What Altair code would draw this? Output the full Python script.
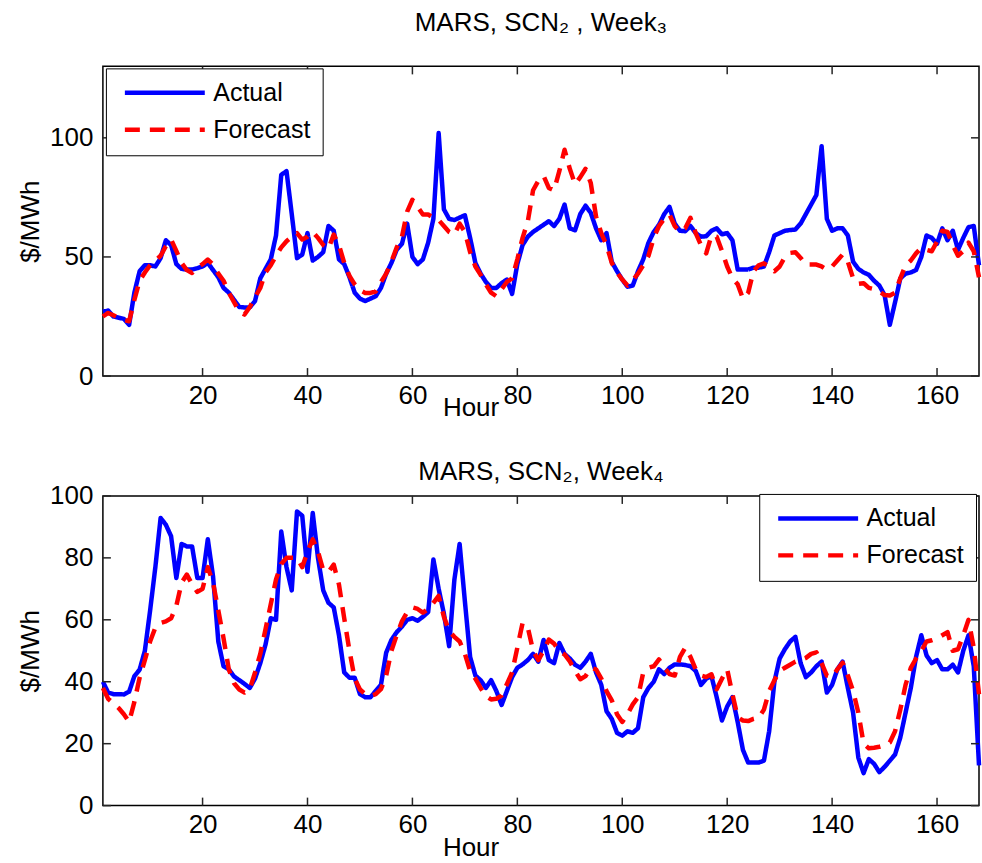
import altair as alt
import pandas as pd

# Hourly prices ($/MWh), hours 1..168
hours = list(range(1, 169))

week3_actual = [
    27, 27.5, 25, 24.5, 24, 21.5, 35, 44, 46.5, 46.5, 46, 49.5,
    57, 55, 47, 45, 44.7, 44.7, 45.3, 46, 47.5, 44.5, 41.5, 37,
    35, 32, 29, 28.8, 28.8, 31.5, 41, 45, 49, 59, 84.5, 86,
    68, 49.5, 51, 60, 48.5, 50, 52, 63, 61, 49, 47, 41.5,
    35, 32.5, 31.5, 32.5, 33.5, 37, 43, 47.5, 53, 55.5, 64, 50,
    47, 49, 56, 66, 102, 70, 66, 65.5, 66.5, 67.5, 58, 47.5,
    43, 39.5, 37, 37, 39, 40.5, 34.5, 47, 55, 58.5, 60.5, 62,
    63.5, 65, 63, 66, 72, 62, 61.2, 68, 71.5, 68.5, 62, 57,
    60, 48, 44, 40.5, 37.5, 38, 44, 49, 56, 60.5, 63.5, 68,
    71, 64, 61, 60.8, 63, 60, 58.5, 58.7, 61, 62, 59.5, 60,
    57, 44.7, 44.7, 44.7, 45.5, 45.5, 46, 52, 59, 60, 61, 61.3,
    61.5, 64, 68, 72, 76, 96.5, 66, 61, 62, 62, 59, 48,
    45, 43.5, 42.5, 40, 38, 34, 21.5, 31, 41, 43, 43.5, 44.5,
    50, 59, 58, 55.5, 62, 57, 61, 53, 58, 62.5, 63, 46.5,
]

week3_forecast = [
    25, 26.5, 25.5, 24.5, 23.5, 23, 32, 40, 43.5, 46.5, 48.5, 50.5,
    54.5, 57.3, 52.5, 47.5, 44.5, 43.3, 45.5, 47, 48.9, 46.8, 43, 40,
    35, 31, 27, 25.8, 29, 33, 37, 43.5, 46.5, 50.5, 54, 56.6,
    58.5, 60, 57.3, 58.5, 60.5, 58, 55, 53.5, 59.4, 55, 47.5, 42,
    38.5, 36, 34.9, 34.9, 35.5, 39.5, 43, 48, 54, 58.5, 69, 74,
    71, 67.8, 67.8, 66.5, 65.5, 63, 60.5, 59.4, 64, 60.5, 52, 46,
    42.5, 38.5, 35, 33.5, 36.5, 39.5, 41, 49, 58, 65, 78, 82,
    84, 79, 78, 86, 95, 87, 80.5, 83.5, 87, 81, 67, 60,
    55, 47.5, 43.5, 40.5, 38, 40.3, 43, 46.5, 50.5, 58, 63, 66,
    67.8, 63, 60.5, 62, 66.4, 60, 55, 51.5, 59, 58.5, 52.5, 46,
    41, 38.5, 32.5, 35, 44, 46.5, 47.3, 46, 44, 46, 50, 51.7,
    52, 49.6, 46.8, 46.8, 46.8, 46, 44.7, 46, 48.5, 51, 48, 41,
    38.7, 39, 37, 36.5, 35.5, 34, 33.8, 35, 41, 46.5, 48.5, 51.5,
    53.8, 53, 52.4, 56.5, 61, 60.5, 55, 50.5, 52.5, 56, 52.4, 41.5,
]

week4_actual = [
    40, 36.5, 36, 36, 35.9, 36.8, 41.8, 43.9, 50, 63, 77, 92.9,
    90.7, 87, 73.5, 84.5, 83.7, 83.7, 73.5, 73.5, 86, 74, 53, 45,
    44, 41.7, 40.5, 39.3, 38, 41, 46, 52, 60.5, 60, 88.5, 77,
    69.5, 95, 93.6, 75.5, 94.5, 80, 69.5, 65.5, 64, 55, 43, 41.3,
    41.3, 36, 35, 35, 37, 39, 49.4, 53.5, 56, 57.8, 60, 60.5,
    59.7, 61, 62.5, 79.5, 70, 62, 51.5, 73, 84.5, 66, 48, 42,
    40.5, 38, 40.5, 37, 32.5, 37, 41.5, 44.5, 45.6, 47, 49, 46.5,
    53.5, 47, 46, 52.5, 49, 47.5, 45.5, 44.5, 46.5, 49, 43, 39,
    30.5, 28, 23.5, 22.6, 24, 23.5, 25, 35, 38, 40, 44, 42.5,
    44.5, 45.6, 45.6, 45.4, 45, 43.5, 39, 41, 41.8, 35, 27.5, 32,
    35, 27, 18, 13.9, 13.9, 13.9, 14.5, 24, 40, 47.5, 50.5, 53,
    54.5, 46, 41.5, 43, 45, 46.5, 36.5, 39, 44, 46.5, 38, 30,
    15.5, 10.5, 15, 13.5, 10.8, 12.5, 14.5, 16.5, 22, 30, 38, 48,
    55, 48.5, 46, 47, 44, 44, 45.5, 43, 50, 55, 45, 13,
]

week4_forecast = [
    38, 34.5, 33, 31.5, 29.5, 27, 33.5, 41.3, 47, 53, 57.5, 59,
    59.5, 60.5, 64.5, 72, 74.6, 71.5, 69, 70, 77, 72, 63, 54,
    44, 39.5, 37.5, 36.5, 37.6, 43, 49, 57, 65, 73, 78, 80,
    80, 80, 77, 82, 86, 82, 76, 75.5, 77.8, 71.4, 60.5, 50,
    41, 37.5, 36, 35.4, 36, 37.6, 42, 50, 55, 59.5, 62.5, 64,
    63.5, 62.3, 63.5, 65.5, 67.7, 61, 56.3, 54.5, 53, 49, 43.5, 41,
    38, 35.4, 34.3, 34.5, 35.5, 39.2, 43, 51, 59, 57.5, 50, 47,
    50, 53.6, 52.3, 50, 48.8, 46.6, 43.5, 40.8, 41.8, 44.5, 44, 41,
    37, 34, 29.5, 27, 29.5, 32.7, 35, 43, 44.5, 45, 47.2, 44.5,
    42.5, 42, 48, 51, 48, 44, 42, 41.5, 42.4, 37.6, 41, 44,
    36, 28.5, 27.5, 27.3, 28, 28.4, 31, 37, 40.5, 43.5, 44.5, 45.5,
    46.5, 47, 47.7, 49, 49.5, 46, 42, 41.5, 44, 46.2, 42, 37,
    30, 20, 18.5, 18.7, 19, 19.5, 20.4, 24, 31, 39, 44.5, 47.5,
    50, 53, 53.4, 54, 55, 56, 50, 50.5, 55, 60, 51, 36,
]

series_names = ["Actual", "Forecast"]
x_ticks = [20, 40, 60, 80, 100, 120, 140, 160]
week3_y_ticks = [0, 50, 100]
week4_y_ticks = [0, 20, 40, 60, 80, 100]

FONT = "Liberation Sans"
W, H = 877, 310
TICK = 8

# Legend key: a horizontal segment drawn from the symbol origin to the right,
# 8 units long (scaled by sqrt(symbolSize) / 2 = 10 px -> 80 px).
LEGEND_KEY = "M0,0H8"


def long_table(actual, forecast):
    return pd.DataFrame({
        "Hour": hours * 2,
        "price": actual + forecast,
        "series": [series_names[0]] * len(hours) + [series_names[1]] * len(hours),
    })


def panel(actual, forecast, y_max, y_ticks, title, legend_x, legend_y,
          title_offset, hour_title_y):
    x_scale = alt.Scale(domain=[1, 168], nice=False, zero=False)
    y_scale = alt.Scale(domain=[0, y_max], nice=False)

    legend = alt.Legend(
        title=None, orient="none", legendX=legend_x, legendY=legend_y,
        symbolType=LEGEND_KEY, symbolSize=400, symbolStrokeWidth=4.5,
        symbolOffset=-5.5,
        labelFont=FONT, labelFontSize=25, labelColor="black",
        labelOffset=76, strokeColor="black", fillColor="white",
        padding=12, rowPadding=11,
    )

    lines = alt.Chart(long_table(actual, forecast)).mark_line(
        strokeWidth=4.5, strokeJoin="round"
    ).encode(
        x=alt.X("Hour:Q", scale=x_scale, axis=alt.Axis(
            values=x_ticks, title="Hour", titleX=368, titleY=hour_title_y,
            titleBaseline="top", labelPadding=6)),
        y=alt.Y("price:Q", scale=y_scale, axis=alt.Axis(
            values=y_ticks, title="$/MWh", labelPadding=10, titlePadding=6)),
        color=alt.Color("series:N", scale=alt.Scale(
            domain=series_names, range=["#0000ff", "#ff0000"]), legend=legend),
        strokeDash=alt.StrokeDash("series:N", scale=alt.Scale(
            domain=series_names, range=[[1, 0], [15, 10]]), legend=legend),
        order=alt.Order("Hour:Q"),
    )

    xt = alt.Chart(pd.DataFrame({"t": x_ticks}))
    yt = alt.Chart(pd.DataFrame({"t": y_ticks}))
    tick_style = dict(color="#262626", strokeWidth=1.5)
    ticks = [
        xt.mark_rule(**tick_style).encode(
            x=alt.X("t:Q", scale=x_scale), y=alt.value(H), y2=alt.value(H - TICK)),
        xt.mark_rule(**tick_style).encode(
            x=alt.X("t:Q", scale=x_scale), y=alt.value(0), y2=alt.value(TICK)),
        yt.mark_rule(**tick_style).encode(
            y=alt.Y("t:Q", scale=y_scale), x=alt.value(0), x2=alt.value(TICK)),
        yt.mark_rule(**tick_style).encode(
            y=alt.Y("t:Q", scale=y_scale), x=alt.value(W - TICK), x2=alt.value(W)),
    ]

    return alt.layer(lines, *ticks).properties(
        width=W, height=H,
        title=alt.TitleParams(title, offset=title_offset),
    )


top = panel(week3_actual, week3_forecast, 130, week3_y_ticks,
            "MARS, SCN₂ , Week₃", 3, 2, 30, 18)
bottom = panel(week4_actual, week4_forecast, 100, week4_y_ticks,
               "MARS, SCN₂, Week₄", 657, -2, -2, 29)

chart = alt.vconcat(top, bottom, spacing=120, bounds="flush").resolve_legend(
    color="independent", strokeDash="independent",
).properties(
    padding={"left": 16, "top": 8, "right": 0, "bottom": 0},
).configure_view(
    stroke="black", strokeWidth=1.5,
).configure_axis(
    labelFont=FONT, labelFontSize=26, labelColor="black",
    titleFont=FONT, titleFontSize=26, titleColor="black", titleFontWeight="normal",
    grid=False, ticks=False, domain=False,
).configure_title(
    font=FONT, fontSize=26, fontWeight="normal", color="black", anchor="middle",
)

chart.save("out.html", embed_options={"renderer": "svg", "actions": False})
